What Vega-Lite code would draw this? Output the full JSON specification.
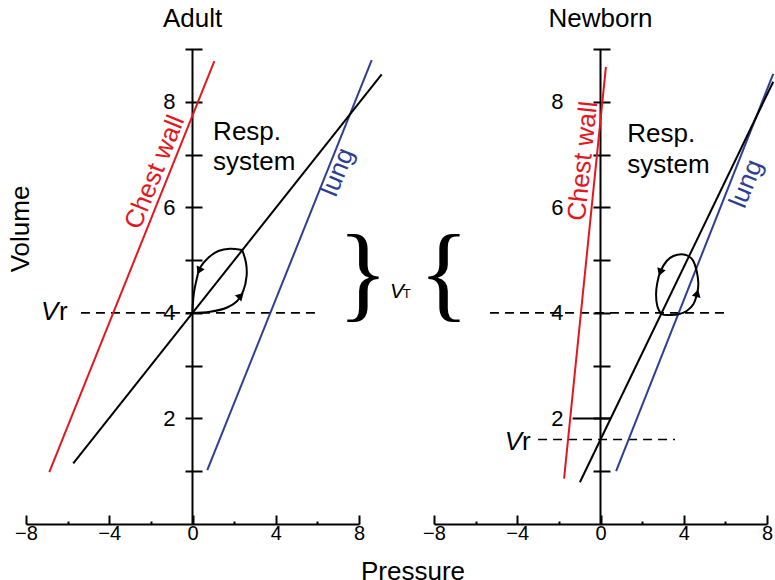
{
  "$schema": "https://vega.github.io/schema/vega-lite/v6.json",
  "padding": {"left": 7, "top": 6, "right": 0, "bottom": 0},
  "spacing": 75,
  "bounds": "flush",
  "datasets": {
    "yAxisLine": [
      {"P": 0, "V": 0},
      {"P": 0, "V": 9}
    ],
    "adultLines": [
      {"series": "Chest wall", "P": -6.88, "V": 0.985},
      {"series": "Chest wall", "P": 1.05, "V": 8.77},
      {"series": "Lung", "P": 0.71, "V": 1.02},
      {"series": "Lung", "P": 8.61, "V": 8.79},
      {"series": "Respiratory system", "P": -5.73, "V": 1.15},
      {"series": "Respiratory system", "P": 9.09, "V": 8.52}
    ],
    "newbornLines": [
      {"series": "Chest wall", "P": -1.75, "V": 0.86},
      {"series": "Chest wall", "P": 0.26, "V": 8.66},
      {"series": "Lung", "P": 0.75, "V": 1.0},
      {"series": "Lung", "P": 8.3, "V": 8.53},
      {"series": "Respiratory system", "P": -0.99, "V": 0.79},
      {"series": "Respiratory system", "P": 8.3, "V": 8.38}
    ],
    "adultLevels": [
      {"level": "FRC", "P": -5.36, "V": 4},
      {"level": "FRC", "P": 5.93, "V": 4}
    ],
    "newbornLevels": [
      {"level": "FRC", "P": -5.31, "V": 4},
      {"level": "FRC", "P": 5.98, "V": 4},
      {"level": "Vr", "P": -3.0, "V": 1.6},
      {"level": "Vr", "P": 3.58, "V": 1.6}
    ],
    "newbornMark2": [
      {"P": -1.34, "V": 2},
      {"P": 0.46, "V": 2}
    ],
    "adultLoop": [
      {"phase": "inspiration", "step": 0, "P": 0, "V": 4},
      {"phase": "inspiration", "step": 1, "P": 0.84, "V": 4.022},
      {"phase": "inspiration", "step": 2, "P": 1.64, "V": 4.098},
      {"phase": "inspiration", "step": 3, "P": 2.15, "V": 4.225},
      {"phase": "inspiration", "step": 4, "P": 2.44, "V": 4.415},
      {"phase": "inspiration", "step": 5, "P": 2.6, "V": 4.7},
      {"phase": "inspiration", "step": 6, "P": 2.57, "V": 4.95},
      {"phase": "inspiration", "step": 7, "P": 2.39, "V": 5.19},
      {"phase": "expiration", "step": 0, "P": 2.39, "V": 5.19},
      {"phase": "expiration", "step": 1, "P": 1.8, "V": 5.216},
      {"phase": "expiration", "step": 2, "P": 1.24, "V": 5.173},
      {"phase": "expiration", "step": 3, "P": 0.76, "V": 5.046},
      {"phase": "expiration", "step": 4, "P": 0.36, "V": 4.856},
      {"phase": "expiration", "step": 5, "P": 0.2, "V": 4.636},
      {"phase": "expiration", "step": 6, "P": 0.07, "V": 4.383},
      {"phase": "expiration", "step": 7, "P": 0.01, "V": 4.13},
      {"phase": "expiration", "step": 8, "P": 0, "V": 4}
    ],
    "newbornLoop": [
      {"step": 0, "P": 2.94, "V": 3.98},
      {"step": 1, "P": 3.34, "V": 3.96},
      {"step": 2, "P": 3.74, "V": 3.973},
      {"step": 3, "P": 4.14, "V": 4.036},
      {"step": 4, "P": 4.46, "V": 4.163},
      {"step": 5, "P": 4.65, "V": 4.382},
      {"step": 6, "P": 4.7, "V": 4.572},
      {"step": 7, "P": 4.62, "V": 4.794},
      {"step": 8, "P": 4.46, "V": 4.983},
      {"step": 9, "P": 4.22, "V": 5.078},
      {"step": 10, "P": 3.9, "V": 5.11},
      {"step": 11, "P": 3.5, "V": 5.078},
      {"step": 12, "P": 3.18, "V": 4.983},
      {"step": 13, "P": 2.89, "V": 4.794},
      {"step": 14, "P": 2.73, "V": 4.572},
      {"step": 15, "P": 2.67, "V": 4.352},
      {"step": 16, "P": 2.73, "V": 4.13}
    ],
    "arrows": [
      {"panel": "Adult", "phase": "expiration", "P": 0.34, "V": 4.82},
      {"panel": "Adult", "phase": "inspiration", "P": 2.28, "V": 4.31},
      {"panel": "Newborn", "phase": "expiration", "P": 2.89, "V": 4.79},
      {"panel": "Newborn", "phase": "inspiration", "P": 4.63, "V": 4.35}
    ],
    "notes": [
      {"panel": "Adult", "role": "system", "label": "Resp.", "P": 0.99, "V": 7.285},
      {"panel": "Adult", "role": "system", "label": "system", "P": 0.99, "V": 6.707},
      {"panel": "Adult", "role": "chest", "label": "Chest wall", "P": -1.45, "V": 6.61},
      {"panel": "Adult", "role": "lung", "label": "lung", "P": 7.33, "V": 6.61},
      {"panel": "Adult", "role": "volume", "label": "V", "P": -7.28, "V": 3.865},
      {"panel": "Adult", "role": "volumeSub", "label": "r", "P": -6.42, "V": 3.865},
      {"panel": "Adult", "role": "brace", "label": "}", "P": 8.19, "V": 4.1},
      {"panel": "Adult", "role": "tidal", "label": "V", "P": 9.49, "V": 4.28},
      {"panel": "Adult", "role": "tidalSub", "label": "T", "P": 10.1, "V": 4.28},
      {"panel": "Newborn", "role": "system", "label": "Resp.", "P": 1.29, "V": 7.238},
      {"panel": "Newborn", "role": "system", "label": "system", "P": 1.29, "V": 6.66},
      {"panel": "Newborn", "role": "chest", "label": "Chest wall", "P": -0.457, "V": 6.86},
      {"panel": "Newborn", "role": "lung", "label": "lung", "P": 7.356, "V": 6.39},
      {"panel": "Newborn", "role": "volume", "label": "V", "P": -4.6, "V": 1.4},
      {"panel": "Newborn", "role": "volumeSub", "label": "r", "P": -3.77, "V": 1.4},
      {"panel": "Newborn", "role": "brace", "label": "{", "P": -7.52, "V": 4.1}
    ]
  },
  "hconcat": [
    {
      "width": 333,
      "height": 475,
      "title": {"text": "Adult", "fontSize": 26, "offset": 6, "anchor": "middle"},
      "encoding": {
        "x": {
          "field": "P", "type": "quantitative",
          "scale": {"domain": [-8, 8], "nice": false, "zero": false},
          "axis": {
            "orient": "bottom",
            "values": [-8, -6, -4, -2, 0, 2, 4, 6, 8],
            "labelExpr": "datum.value % 4 === 0 ? datum.label : ''",
            "tickSize": {"condition": {"test": "datum.value % 4 === 0", "value": -9}, "value": -3},
            "labelPadding": 8, "labelFontSize": 20, "labelFlush": false, "labelOverlap": false,
            "title": "Pressure", "titleX": 386.5, "titleY": 55, "titleAlign": "center",
            "titleBaseline": "alphabetic", "titleFontSize": 26
          }
        },
        "y": {
          "field": "V", "type": "quantitative",
          "scale": {"domain": [0, 9], "nice": false, "zero": false},
          "axis": {
            "orient": "left", "offset": -176, "domain": false,
            "values": [1, 2, 3, 4, 5, 6, 7, 8, 9],
            "tickSize": 17,
            "labelExpr": "datum.value % 2 === 0 ? datum.label : ''",
            "labelPadding": 10, "labelFontSize": 22, "labelOverlap": false, "labelFlush": false,
            "title": "Volume", "titleX": -173.7, "titleY": 179.5, "titleAngle": -90,
            "titleAlign": "center", "titleBaseline": "alphabetic", "titleFontSize": 26
          }
        }
      },
      "layer": [
        {
          "data": {"name": "yAxisLine"},
          "mark": {"type": "line", "color": "#000000", "strokeWidth": 2},
          "encoding": {}
        },
        {
          "data": {"name": "adultLevels"},
          "mark": {"type": "line", "color": "#000000", "strokeWidth": 1.6, "strokeDash": [9, 6]},
          "encoding": {"detail": {"field": "level"}}
        },
        {
          "data": {"name": "adultLines"},
          "mark": {"type": "line", "strokeWidth": 2, "clip": false},
          "encoding": {
            "color": {"field": "series", "type": "nominal",
              "scale": {"domain": ["Chest wall", "Lung", "Respiratory system"], "range": ["#e3181f", "#2d3e96", "#000000"]},
              "legend": null}
          }
        },
        {
          "data": {"name": "adultLoop"},
          "mark": {"type": "line", "color": "#000000", "strokeWidth": 2, "interpolate": "catmull-rom"},
          "encoding": {"detail": {"field": "phase"}, "order": {"field": "step", "type": "quantitative"}}
        },
        {
          "data": {"name": "arrows"},
          "transform": [{"filter": "datum.panel === 'Adult' && datum.phase === 'expiration'"}],
          "mark": {"type": "point", "shape": "triangle", "filled": true, "color": "#000000", "size": 80, "angle": 205, "opacity": 1}
        },
        {
          "data": {"name": "arrows"},
          "transform": [{"filter": "datum.panel === 'Adult' && datum.phase === 'inspiration'"}],
          "mark": {"type": "point", "shape": "triangle", "filled": true, "color": "#000000", "size": 80, "angle": 45, "opacity": 1}
        },
        {
          "data": {"name": "notes"},
          "transform": [{"filter": "datum.panel === 'Adult' && (datum.role === 'system' || datum.role === 'volumeSub')"}],
          "mark": {"type": "text", "align": "left", "baseline": "alphabetic", "fontSize": 26, "color": "#000000"},
          "encoding": {"text": {"field": "label"}}
        },
        {
          "data": {"name": "notes"},
          "transform": [{"filter": "datum.panel === 'Adult' && datum.role === 'volume'"}],
          "mark": {"type": "text", "align": "left", "baseline": "alphabetic", "fontSize": 26, "fontStyle": "italic", "color": "#000000"},
          "encoding": {"text": {"field": "label"}}
        },
        {
          "data": {"name": "notes"},
          "transform": [{"filter": "datum.panel === 'Adult' && datum.role === 'chest'"}],
          "mark": {"type": "text", "align": "center", "baseline": "alphabetic", "fontSize": 26, "angle": -68, "color": "#e3181f"},
          "encoding": {"text": {"field": "label"}}
        },
        {
          "data": {"name": "notes"},
          "transform": [{"filter": "datum.panel === 'Adult' && datum.role === 'lung'"}],
          "mark": {"type": "text", "align": "center", "baseline": "alphabetic", "fontSize": 26, "angle": -68, "color": "#2d3e96"},
          "encoding": {"text": {"field": "label"}}
        },
        {
          "data": {"name": "notes"},
          "transform": [{"filter": "datum.panel === 'Adult' && datum.role === 'brace'"}],
          "mark": {"type": "text", "align": "center", "baseline": "alphabetic", "fontSize": 105, "font": "Liberation Serif", "color": "#000000"},
          "encoding": {"text": {"field": "label"}}
        },
        {
          "data": {"name": "notes"},
          "transform": [{"filter": "datum.panel === 'Adult' && datum.role === 'tidal'"}],
          "mark": {"type": "text", "align": "left", "baseline": "alphabetic", "fontSize": 21, "fontStyle": "italic", "color": "#000000"},
          "encoding": {"text": {"field": "label"}}
        },
        {
          "data": {"name": "notes"},
          "transform": [{"filter": "datum.panel === 'Adult' && datum.role === 'tidalSub'"}],
          "mark": {"type": "text", "align": "left", "baseline": "alphabetic", "fontSize": 13, "color": "#000000"},
          "encoding": {"text": {"field": "label"}}
        }
      ]
    },
    {
      "width": 333,
      "height": 475,
      "title": {"text": "Newborn", "fontSize": 26, "offset": 6, "anchor": "middle"},
      "encoding": {
        "x": {
          "field": "P", "type": "quantitative",
          "scale": {"domain": [-8, 8], "nice": false, "zero": false},
          "axis": {
            "orient": "bottom",
            "values": [-8, -6, -4, -2, 0, 2, 4, 6, 8],
            "labelExpr": "datum.value % 4 === 0 ? datum.label : ''",
            "tickSize": {"condition": {"test": "datum.value % 4 === 0", "value": -9}, "value": -3},
            "labelPadding": 8, "labelFontSize": 20, "labelFlush": false, "labelOverlap": false,
            "title": null
          }
        },
        "y": {
          "field": "V", "type": "quantitative",
          "scale": {"domain": [0, 9], "nice": false, "zero": false},
          "axis": {
            "orient": "left", "offset": -176, "domain": false,
            "values": [1, 2, 3, 4, 5, 6, 7, 8, 9],
            "tickSize": 17,
            "labelExpr": "datum.value % 2 === 0 ? datum.label : ''",
            "labelPadding": 30, "labelFontSize": 22, "labelOverlap": false, "labelFlush": false,
            "title": null
          }
        }
      },
      "layer": [
        {
          "data": {"name": "yAxisLine"},
          "mark": {"type": "line", "color": "#000000", "strokeWidth": 2},
          "encoding": {}
        },
        {
          "data": {"name": "newbornLevels"},
          "mark": {"type": "line", "color": "#000000", "strokeWidth": 1.6, "strokeDash": [9, 6]},
          "encoding": {"detail": {"field": "level"}}
        },
        {
          "data": {"name": "newbornMark2"},
          "mark": {"type": "line", "color": "#000000", "strokeWidth": 2},
          "encoding": {}
        },
        {
          "data": {"name": "newbornLines"},
          "mark": {"type": "line", "strokeWidth": 2, "clip": false},
          "encoding": {
            "color": {"field": "series", "type": "nominal",
              "scale": {"domain": ["Chest wall", "Lung", "Respiratory system"], "range": ["#e3181f", "#2d3e96", "#000000"]},
              "legend": null}
          }
        },
        {
          "data": {"name": "newbornLoop"},
          "mark": {"type": "line", "color": "#000000", "strokeWidth": 2, "interpolate": "cardinal-closed"},
          "encoding": {"order": {"field": "step", "type": "quantitative"}}
        },
        {
          "data": {"name": "arrows"},
          "transform": [{"filter": "datum.panel === 'Newborn' && datum.phase === 'expiration'"}],
          "mark": {"type": "point", "shape": "triangle", "filled": true, "color": "#000000", "size": 80, "angle": 200, "opacity": 1}
        },
        {
          "data": {"name": "arrows"},
          "transform": [{"filter": "datum.panel === 'Newborn' && datum.phase === 'inspiration'"}],
          "mark": {"type": "point", "shape": "triangle", "filled": true, "color": "#000000", "size": 80, "angle": 15, "opacity": 1}
        },
        {
          "data": {"name": "notes"},
          "transform": [{"filter": "datum.panel === 'Newborn' && (datum.role === 'system' || datum.role === 'volumeSub')"}],
          "mark": {"type": "text", "align": "left", "baseline": "alphabetic", "fontSize": 26, "color": "#000000"},
          "encoding": {"text": {"field": "label"}}
        },
        {
          "data": {"name": "notes"},
          "transform": [{"filter": "datum.panel === 'Newborn' && datum.role === 'volume'"}],
          "mark": {"type": "text", "align": "left", "baseline": "alphabetic", "fontSize": 26, "fontStyle": "italic", "color": "#000000"},
          "encoding": {"text": {"field": "label"}}
        },
        {
          "data": {"name": "notes"},
          "transform": [{"filter": "datum.panel === 'Newborn' && datum.role === 'chest'"}],
          "mark": {"type": "text", "align": "center", "baseline": "alphabetic", "fontSize": 26, "angle": -84, "color": "#e3181f"},
          "encoding": {"text": {"field": "label"}}
        },
        {
          "data": {"name": "notes"},
          "transform": [{"filter": "datum.panel === 'Newborn' && datum.role === 'lung'"}],
          "mark": {"type": "text", "align": "center", "baseline": "alphabetic", "fontSize": 26, "angle": -68, "color": "#2d3e96"},
          "encoding": {"text": {"field": "label"}}
        },
        {
          "data": {"name": "notes"},
          "transform": [{"filter": "datum.panel === 'Newborn' && datum.role === 'brace'"}],
          "mark": {"type": "text", "align": "center", "baseline": "alphabetic", "fontSize": 105, "font": "Liberation Serif", "color": "#000000"},
          "encoding": {"text": {"field": "label"}}
        }
      ]
    }
  ],
  "config": {
    "view": {"stroke": null},
    "font": "Liberation Sans",
    "axis": {
      "grid": false, "domainColor": "#000000", "tickColor": "#000000", "labelColor": "#000000",
      "titleColor": "#000000", "titleFontWeight": "normal", "domainWidth": 2, "tickWidth": 2,
      "labelFont": "Liberation Sans", "titleFont": "Liberation Sans"
    },
    "title": {"fontWeight": "normal", "color": "#000000", "font": "Liberation Sans"}
  }
}
